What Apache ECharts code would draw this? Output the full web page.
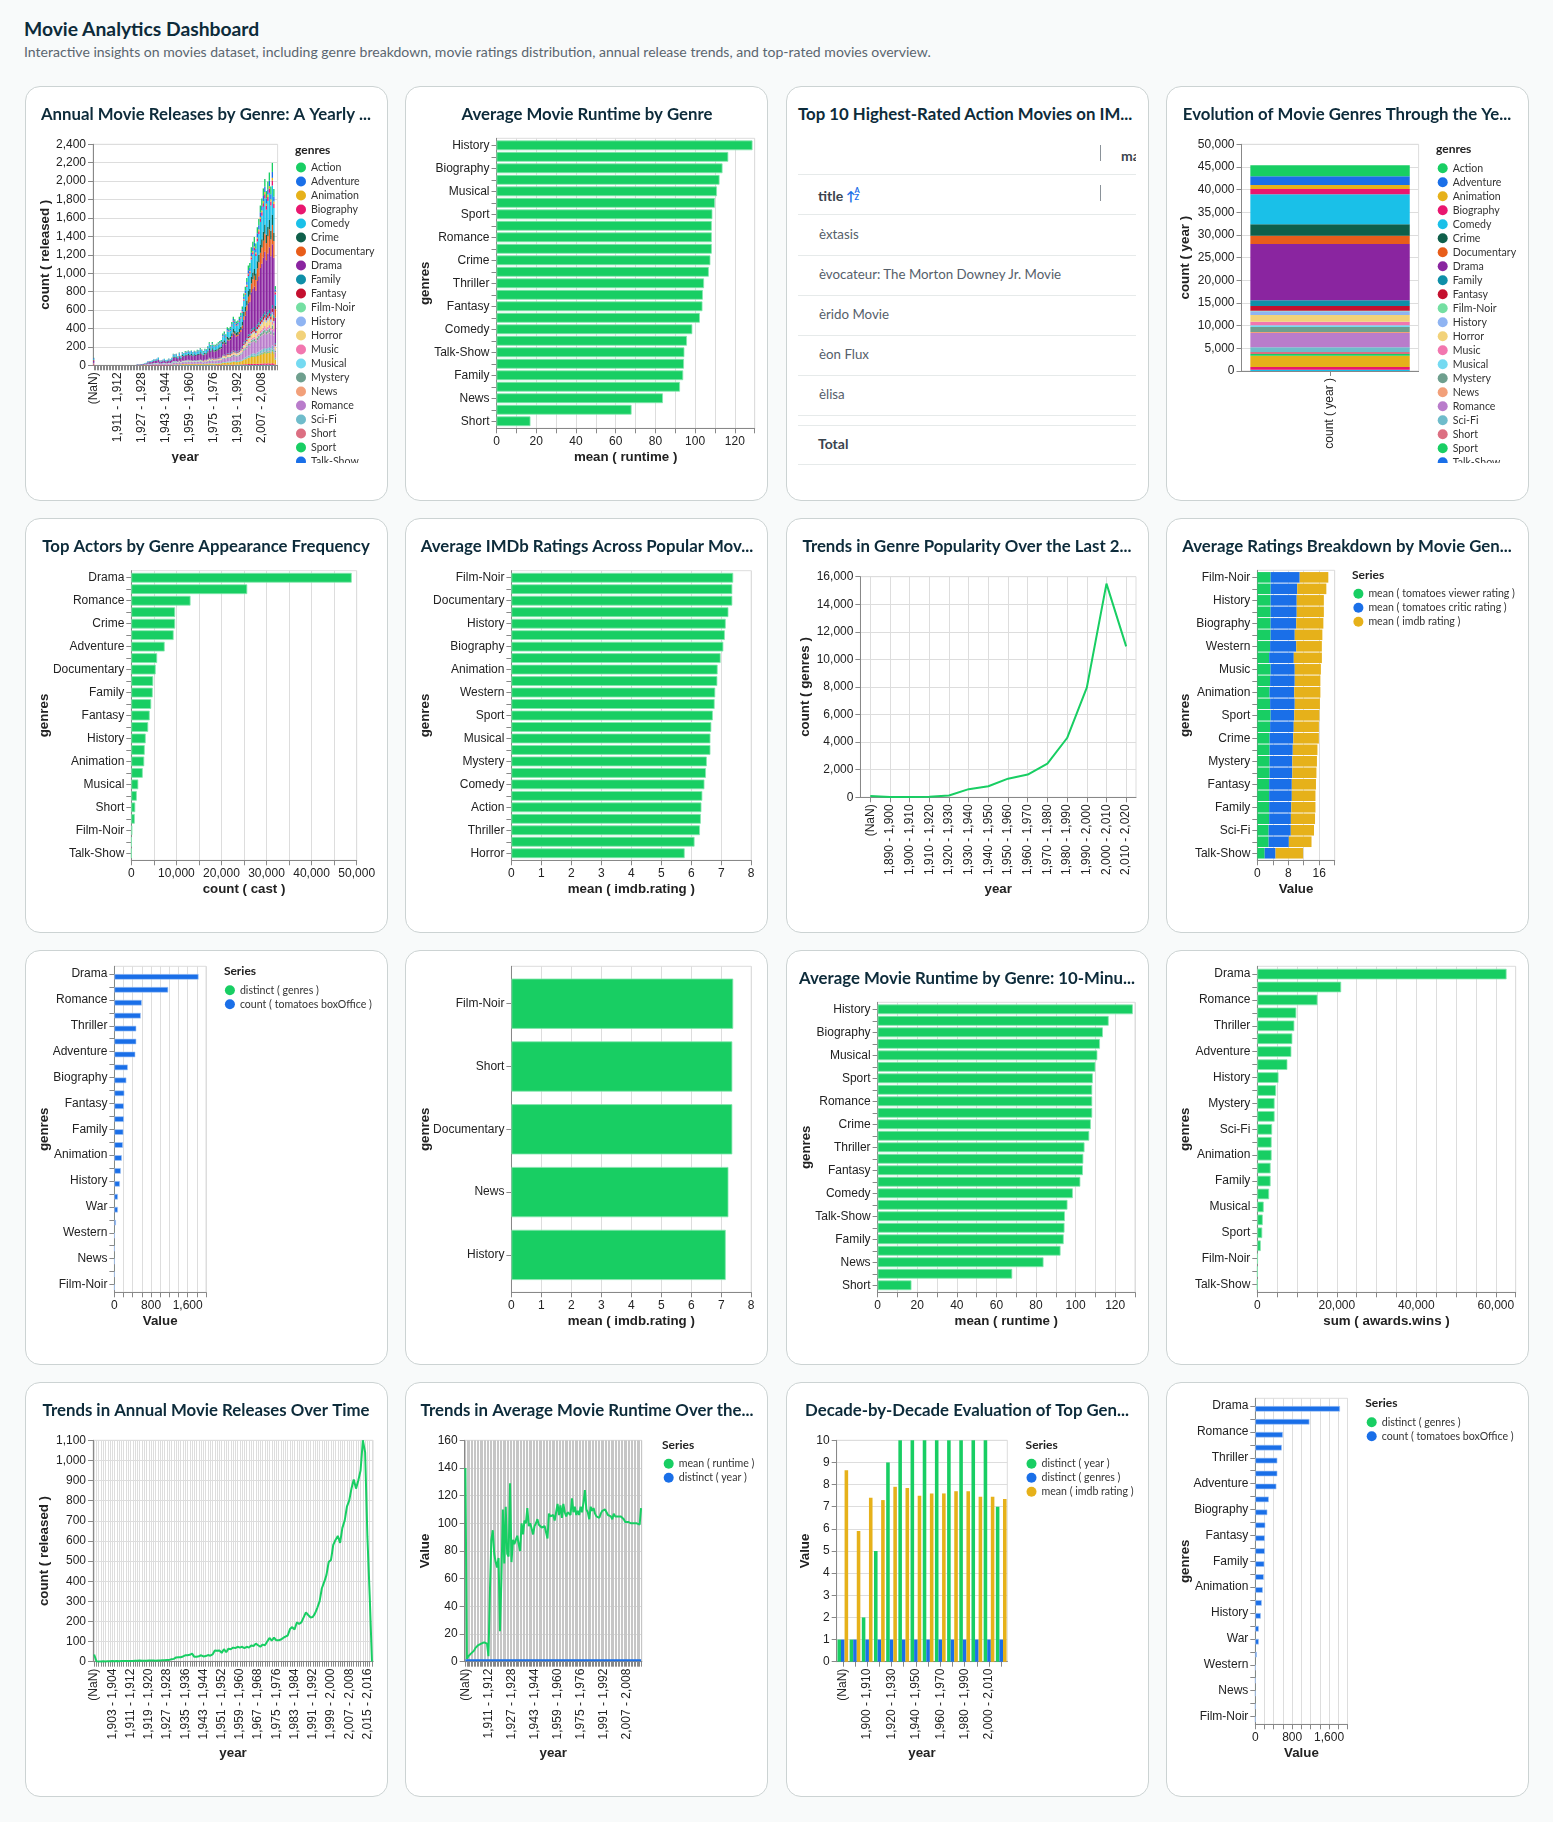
<!DOCTYPE html>
<html><head><meta charset="utf-8"><title>Movie Analytics Dashboard</title>
<script src="https://cdn.jsdelivr.net/npm/echarts@6/dist/echarts.min.js"></script>
<style>
html,body{margin:0;padding:0;background:#f8fafa;width:1553px;height:1822px;overflow:hidden;font-family:Lato,sans-serif}
#h1{position:absolute;left:24px;top:18px;font:700 19.3px Lato;color:#0d2b3a;line-height:22px}
#h2{position:absolute;left:24px;top:43px;font:400 14.05px Lato;color:#5b6670;line-height:17px;white-space:nowrap}
.card{position:absolute;width:363px;height:415px;box-sizing:border-box;background:#fff;border:1px solid #ccd3d3;border-radius:15px}
.chart{position:absolute}
.t{position:absolute;white-space:nowrap;font:400 13.3px Lato;color:#56606a;line-height:18px}
.hl{position:absolute;left:798px;width:338px;height:1px;background:#e6eaea}
.vl{position:absolute;left:1100px;width:1px;background:#8a9299}
</style></head><body>
<div id="h1">Movie Analytics Dashboard</div>
<div id="h2">Interactive insights on movies dataset, including genre breakdown, movie ratings distribution, annual release trends, and top-rated movies overview.</div>
<div id="root"></div>
<script>
// ---------- palette and names ----------
const GREEN='#18ce63',BLUE='#1a6fe8',GOLD='#e6b11a';
const genreNames=['Action','Adventure','Animation','Biography','Comedy','Crime','Documentary','Drama','Family','Fantasy','Film-Noir','History','Horror','Music','Musical','Mystery','News','Romance','Sci-Fi','Short','Sport','Talk-Show','Thriller','War','Western'];
const genreColors=[GREEN,BLUE,GOLD,'#e9176f','#1ac0e8','#0f5f4a','#e85d1a','#8a25a0','#0f8fa8','#c4102f','#74dfa2','#8fb4f2','#f2d27a','#f277af','#75daf1','#6f9f8e','#f2a07a','#b97ccb','#6fbccb','#dc6f82',GREEN,BLUE,GOLD,'#e9176f','#1ac0e8'];

// ---------- tick labels ----------
const yearCats=['(NaN)'];
for(let y=1896;y<=2017;y++){yearCats.push(y.toLocaleString('en-US')+' - '+(y+1).toLocaleString('en-US'));}
const decadeCats=['(NaN)','1,890 - 1,900','1,900 - 1,910','1,910 - 1,920','1,920 - 1,930','1,930 - 1,940','1,940 - 1,950','1,950 - 1,960','1,960 - 1,970','1,970 - 1,980','1,980 - 1,990','1,990 - 2,000','2,000 - 2,010','2,010 - 2,020'];

// ---------- yearly counts per genre (right aligned to the last year, earlier years are empty) ----------
const yDrama=[5,5,6,6,7,9,10,15,16,16, 18,22,22,24,28,17,18,19,22,18, 20,23,21,26,40,38,40,31,44,33, 46,43,50,48,53,50,53,48,53,50, 57,55,64,58,52,60,58,70,84,76, 86,76,76,80,85,90,94,118,125,116, 142,138,144,162,184,172,164,166,180,180, 200,245,270,300,340,350,405,425,440,415, 470,500,550,575,610,650,590,640,680,625, 660,625,280,1];
const yComedy=[2,2,3,2,3,4,4,7,7,7, 8,11,10,11,13,8,8,9,11,8, 9,11,10,12,19,18,18,15,21,15, 21,20,23,22,24,22,24,22,25,23, 26,25,29,27,25,28,27,33,39,35, 40,35,35,37,39,41,43,54,57,53, 64,62,65,72,80,76,72,73,80,88, 100,122,132,145,165,168,190,198,205,192, 215,225,245,255,272,285,270,282,295,275, 320,268,120,0];
const yRomance=[2,2,2,2,2,3,4,6,6,6, 7,9,9,10,12,7,8,8,9,8, 8,9,9,11,16,15,16,13,17,13, 17,16,18,18,19,18,19,17,18,17, 18,17,20,18,16,18,17,20,24,22, 25,22,22,23,24,26,27,33,35,33, 40,39,41,46,51,49,46,47,51,57, 64,78,85,92,106,108,122,125,128,120, 133,138,148,151,158,160,150,155,160,148, 172,140,60,0];
const yThriller=[0,0,1,1,1,1,1,2,2,2, 2,3,3,3,4,2,2,3,3,3, 3,3,3,4,6,5,6,5,6,5, 7,7,8,7,8,8,8,7,8,8, 9,9,10,9,8,10,9,12,14,12, 14,12,12,13,14,15,15,20,21,19, 24,23,24,27,30,29,27,28,30,34, 38,48,52,57,65,66,76,78,80,76, 85,90,98,102,108,114,108,113,118,112, 130,108,48,0];
const yCrime=[1,1,1,1,1,1,2,3,3,3, 4,5,5,5,6,4,4,4,5,4, 4,5,5,6,9,9,9,7,10,8, 11,10,11,11,12,11,12,11,12,11, 12,12,14,12,11,13,12,15,17,15, 17,15,15,16,17,18,18,23,24,22, 27,26,27,30,33,31,30,30,32,36, 40,47,50,55,62,63,71,74,75,71, 79,83,90,92,96,100,94,98,102,95, 108,90,38,0];
const yAction=[0,0,0,1,1,1,1,1,1,1, 2,2,2,2,3,2,2,2,2,2, 2,2,2,3,4,4,5,3,5,4, 5,5,6,6,6,6,6,6,6,6, 7,7,8,8,7,8,8,10,12,11, 12,11,11,11,12,13,13,17,18,17, 20,19,20,22,25,23,22,23,25,28, 30,36,40,43,50,51,58,60,62,58, 65,68,74,77,82,86,82,86,90,84, 98,82,36,0];
const yAdventure=[1,0,0,1,0,1,1,1,2,2, 2,2,2,3,3,2,2,2,3,2, 2,3,2,3,5,5,5,4,5,4, 6,5,6,6,6,6,6,6,6,6, 7,6,7,7,6,7,7,8,10,9, 10,8,8,9,9,10,10,13,14,12, 15,14,15,17,19,18,17,17,18,20, 22,26,28,30,35,35,40,41,42,39, 44,46,50,52,55,57,54,56,58,54, 64,54,24,0];
const yDocumentary=[1,0,0,1,0,0,1,0,0,1, 0,1,1,1,1,1,1,1,2,1, 2,1,2,2,2,3,3,4,5,5, 7,8,9,11,14,14,14,15,18,22, 28,38,46,55,70,76,95,105,115,115, 135,150,165,175,185,195,185,190,195,180, 210,180,90,0];
const yAnimation=[1,1, 1,1,1,1,1,1,1,2,2,2, 3,3,3,3,4,4,3,4,4,5, 5,7,8,9,10,10,12,13,14,14, 16,18,20,21,23,24,24,25,26,24, 30,26,12,0];
const yBiography=[1,1,1, 1,1,1,1,1,1,1,1,1,1, 1,1,1,1,2,2,2,1,2,2, 2,2,2,2,2,2,2,2,2,2, 2,2,2,2,2,2,2,3,3,3, 3,3,3,3,3,3,4,4,5,4, 5,5,5,6,7,7,7,7,8,9, 10,12,13,15,17,18,21,22,24,24, 28,30,34,36,40,43,42,44,47,45, 54,46,20,0];
const yFamily=[1,1,1, 1,1,1,1,1,1,1,1,1,1, 1,1,1,1,2,2,2,2,2,2, 2,2,2,2,2,2,2,2,2,2, 3,3,3,3,3,3,3,4,4,4, 5,4,4,5,5,5,5,6,7,6, 8,7,8,9,10,10,9,9,10,11, 12,15,16,18,20,20,23,24,24,23, 26,27,29,30,32,33,31,32,34,31, 36,30,14,0];
const yFantasy=[1,1,1,1,1,0,0,1,1,0, 0,1,1,1,1,1,1,1,1,1, 1,1,1,1,2,1,2,1,2,1, 2,2,3,2,2,3,3,3,4,3, 4,4,4,4,4,5,5,6,6,6, 7,7,7,8,9,8,8,8,9,10, 11,13,14,16,18,18,21,22,23,22, 25,27,29,30,32,34,32,33,35,32, 38,32,14,0];
const yFilmNoir=[1,1,1, 1,2,1,2,3,3,3,2,3,2, 3,2,3,2,2,2,2,1,1,1, 1,1,1,0,0,0,0,0,0,0,0,0,0,0,0,0,0,0,0,0,0,0,0,0,0,0,0,0,0,0,0,0,0,0,0,0,0,0,0,0,0,0,0,0,0,0,0,0,0,0,0,0,0,0];
const yHistory=[1, 1,1,1,1,1,1,1,1,1,1, 0,1,1,1,1,1,1,1,2,1, 2,1,2,2,2,2,2,2,2,2, 2,2,2,2,2,2,2,2,3,2, 3,2,2,2,3,3,3,3,4,3, 4,4,4,5,5,5,5,5,6,6, 7,8,9,10,11,12,14,14,15,15, 17,18,20,21,23,24,23,24,25,24, 28,24,10,0];
const yHorror=[1,1,1,1,1, 1,1,1,1,2,1,1,1,1,1, 1,1,1,1,2,2,2,2,3,2, 3,3,4,4,4,4,4,4,4,4, 5,5,6,6,6,7,7,8,9,8, 9,8,9,9,10,10,11,14,14,13, 16,15,15,16,18,17,16,16,17,19, 21,25,27,30,34,35,40,42,44,42, 48,50,55,58,62,66,63,66,70,66, 76,64,28,0];
const yMusic=[0,1,1,1,1,0,0,1,1,0, 1,1,1,1,1,1,1,1,1,1, 1,1,1,1,1,1,1,1,1,1, 1,1,2,1,1,2,2,2,2,2, 2,2,2,2,2,2,3,3,4,3, 4,4,4,5,5,5,5,5,6,6, 7,9,10,11,12,13,15,16,17,17, 20,22,24,26,28,30,29,30,32,30, 36,30,14,0];
const yMusical=[1,1,1,1,2,2,2,2, 2,2,2,3,3,2,2,2,3,2, 2,3,3,3,4,4,4,3,4,3, 4,4,4,4,4,3,3,3,3,3, 3,3,3,2,2,2,2,2,3,2, 2,2,2,2,2,2,2,3,3,3, 3,3,3,3,3,3,3,3,3,4, 4,5,5,5,6,6,6,7,7,6, 7,7,7,8,8,8,7,8,8,7, 9,7,3,0];
const yMystery=[1,1,1,2,2,2, 2,3,3,3,3,2,2,2,3,2, 2,3,2,3,4,4,4,3,5,3, 5,4,5,5,5,5,5,4,5,4, 5,4,5,5,4,5,5,5,6,5, 6,5,5,5,6,6,6,7,8,7, 8,8,8,9,10,10,9,9,10,11, 13,15,16,18,20,20,23,24,25,24, 27,28,30,31,33,35,33,34,36,33, 38,32,14,0];
const yNews=[1,0,0,1,0,1, 1,1,1,1,2,2,2,3,3,3, 3,3,4,4,4,5,4,5,5,5, 6,5,2,0];
const ySciFi=[1,1,1,1,1,2,1, 2,2,2,2,3,2,2,2,2,2, 2,2,2,2,2,3,3,3,5,4, 5,5,5,5,6,6,6,7,7,7, 8,8,8,9,10,9,9,9,10,11, 12,14,15,17,19,19,22,23,24,23, 26,28,30,32,34,36,35,36,38,36, 42,36,16,0];
const yShort=[1,0,1,1,1,1,1,1,1, 2,2,2,3,3,3,4,4,4,4, 5,5,6,6,7,7,7,7,8,8, 9,8,4,0];
const ySport=[1,0,0,0,1,0, 0,1,0,1,0,1,1,1,1,1, 1,1,1,1,1,1,1,2,2,2, 2,2,2,2,3,3,2,3,3,3, 3,4,4,5,5,5,6,6,7,6, 7,8,8,9,9,10,9,10,10,9, 11,9,4,0];
const yTalkShow=[1,1,0,1,1,1,1,0,0,0,0,0];
const yWar=[1,1,1, 1,1,1,1,2,2,2,2,2,2, 2,2,2,2,3,3,3,3,3,2, 3,3,3,3,3,3,3,3,3,3, 3,3,3,3,2,3,3,3,4,3, 3,3,3,3,3,3,3,4,4,4, 4,4,4,5,5,5,5,5,5,6, 6,8,8,9,10,10,11,12,12,11, 13,13,14,15,15,16,15,16,16,15, 18,15,7,0];
const yWestern=[1,0,1,1,1,1,1,1, 1,1,1,1,1,1,1,1,1,1, 1,1,1,1,2,2,2,1,2,2, 3,3,3,3,3,3,3,3,3,3, 3,3,3,3,2,2,2,2,2,2, 2,2,2,1,1,1,1,2,2,1, 2,2,2,1,1,2,2,2,2,2, 2,3,3,3,3,3,4,4,4,3, 4,4,4,4,5,5,4,5,5,4, 5,4,2,0];
// bar at the (NaN) year, in genreNames order
const nanYearCounts=[5,3,1,2,12,3,6,22,1,1,0,1,2,1,1,1,0,6,1,8,0,0,4,1,1];
const yearlyByGenre=[yAction,yAdventure,yAnimation,yBiography,yComedy,yCrime,yDocumentary,yDrama,yFamily,yFantasy,yFilmNoir,yHistory,yHorror,yMusic,yMusical,yMystery,yNews,yRomance,ySciFi,yShort,ySport,yTalkShow,yThriller,yWar,yWestern];

// ---------- totals of the genre stack ----------
const genreTotals=[2430,1910,880,1180,6620,2500,1850,12400,1260,1040,140,810,1470,810,370,1100,220,3160,1030,440,370,10,2490,580,300];

// ---------- runtime ----------
const runtimeGenres=['History','War','Biography','Drama','Musical','Western','Sport','Music','Romance','Film-Noir','Crime','Mystery','Thriller','Adventure','Fantasy','Action','Comedy','Sci-Fi','Talk-Show','Horror','Family','Documentary','News','Animation','Short'];
const runtimeValues=[128.9,116.7,113.8,112.3,111,110,108.7,108.4,108.4,108.4,107.7,106.9,104.5,103.9,103.7,102.4,98.6,95.9,94.6,94.4,94,92.4,83.8,68,17.1];

// ---------- cast ----------
const castGenres=['Drama','Comedy','Romance','Action','Crime','Thriller','Adventure','Mystery','Documentary','Horror','Family','Biography','Fantasy','Music','History','Sci-Fi','Animation','Sport','Musical','War','Short','Western','Film-Noir','News','Talk-Show'];
const castValues=[48900,25720,13140,9720,9720,9390,7400,5740,5410,4860,4750,4420,4080,3750,3200,2980,2870,2540,1550,1220,880,770,220,60,20];

// ---------- imdb ----------
const imdbGenres=['Film-Noir','Short','Documentary','News','History','War','Biography','Drama','Animation','Crime','Western','Music','Sport','Family','Musical','Romance','Mystery','Adventure','Comedy','Talk-Show','Action','Fantasy','Thriller','Sci-Fi','Horror'];
const imdbValues=[7.4,7.37,7.37,7.24,7.15,7.12,7.07,6.98,6.88,6.87,6.8,6.78,6.72,6.67,6.64,6.64,6.52,6.49,6.44,6.37,6.34,6.32,6.29,6.11,5.78];
const imdbTopGenres=['Film-Noir','Short','Documentary','News','History'];
const imdbTopValues=[7.4,7.37,7.37,7.24,7.15];

// ---------- decades ----------
const decadeReleased=[100,30,30,40,130,590,800,1350,1650,2450,4300,7950,15500,10950];

// ---------- ratings breakdown ----------
const ratingGenres=['Film-Noir','Documentary','History','War','Biography','Drama','Western','Short','Music','Musical','Animation','Romance','Sport','Adventure','Crime','Thriller','Mystery','Comedy','Fantasy','Action','Family','Horror','Sci-Fi','News','Talk-Show'];
const ratingViewer=[3.44,3.44,3.44,3.44,3.44,3.44,3.31,3.06,3.44,3.31,3.18,3.31,3.44,3.31,3.18,3.18,3.18,3.18,3.06,3.06,3.06,3.06,2.93,2.93,1.91];
const ratingCritic=[7.52,6.88,6.75,6.75,6.62,6.24,6.75,6.37,6.24,6.37,6.37,6.37,6.11,6.11,6.11,5.99,5.86,5.86,5.86,5.86,5.73,5.62,5.73,5.22,2.8];
const ratingImdb=[7.39,7.52,7.01,7.01,7.01,7.13,6.62,7.26,6.75,6.62,6.75,6.5,6.5,6.5,6.62,6.37,6.37,6.24,6.24,6.11,6.24,6.24,5.99,5.86,7.13];

// ---------- box office ----------
const boxGenres=['Drama','Comedy','Romance','Action','Thriller','Crime','Adventure','Sci-Fi','Biography','Horror','Fantasy','Mystery','Family','Music','Animation','Sport','History','Musical','War','Documentary','Western','Short','News','Talk-Show','Film-Noir'];
const boxDistinct=[1,1,1,1,1,1,1,1,1,1,1,1,1,1,1,1,1,1,1,1,1,1,1,1,1];
const boxCounts=[1837,1174,598,576,478,478,457,293,261,217,207,207,196,185,163,141,120,76,76,33,5,2,1,1,0];

// ---------- awards ----------
const awardGenres=['Drama','Comedy','Romance','Action','Thriller','Crime','Adventure','Biography','History','Documentary','Mystery','Fantasy','Sci-Fi','Music','Animation','War','Family','Horror','Musical','Western','Sport','Short','Film-Noir','News','Talk-Show'];
const awardValues=[62700,21100,15150,9810,9315,8820,8570,7570,5340,4720,4350,4350,3730,3600,3600,3350,3350,2980,1610,1370,1240,870,120,60,0];

// ---------- released per year ----------
const releasedByYear=[36,2,1,1,2,1,2,2,3,2,3,2,3,3,3,3,4,4,5,5,6,5,5,5,6,6,6,5,6,6,7,7,8,9,12,14,21,22,22,26,32,32,34,40,24,25,27,32,26,28,33,30,36,56,54,56,44,62,47,65,62,70,68,74,70,74,68,74,70,80,78,90,82,74,85,82,100,118,105,120,106,106,110,118,125,130,162,172,160,195,188,195,220,245,232,220,222,240,268,300,365,395,430,495,505,580,605,625,590,665,700,770,800,860,905,860,900,950,1100,1040,620,330,1];

// ---------- runtime per year ----------
const runtimeByYear=[140,2,4,5,6,7,8,10,11,12,12,13,13,14,14,13,4,50,88,95,78,72,68,75,22,60,110,71,112,78,76,129,72,88,85,88,91,85,80,100,92,102,100,111,98,100,96,92,98,100,103,99,98,97,98,98,99,89,107,105,105,106,102,108,114,106,113,104,114,108,105,108,107,106,118,108,112,106,109,106,112,108,115,124,110,108,103,112,109,111,107,105,105,104,107,109,108,110,111,106,105,105,103,107,105,106,105,106,105,105,103,101,102,101,100,100,99,100,101,100,99,99,111];
const distinctYearFlat=[1,1,1,1,1,1,1,1,1,1,1,1,1,1,1,1,1,1,1,1,1,1,1,1,1,1,1,1,1,1,1,1,1,1,1,1,1,1,1,1,1,1,1,1,1,1,1,1,1,1,1,1,1,1,1,1,1,1,1,1,1,1,1,1,1,1,1,1,1,1,1,1,1,1,1,1,1,1,1,1,1,1,1,1,1,1,1,1,1,1,1,1,1,1,1,1,1,1,1,1,1,1,1,1,1,1,1,1,1,1,1,1,1,1,1,1,1,1,1,1,1,1,1];

// ---------- decade evaluation ----------
const decadeDistinctYear=[1,1,2,5,9,10,10,10,10,10,10,10,10,7];
const decadeDistinctGenres=[1,1,1,1,1,1,1,1,1,1,1,1,1,1];
const decadeImdb=[8.65,5.9,7.4,7.3,7.9,7.85,7.5,7.6,7.6,7.7,7.7,7.45,7.45,7.35];

// ---------- table ----------
const tableTitles=['èxtasis','èvocateur: The Morton Downey Jr. Movie','èrido Movie','èon Flux','èlisa'];
const tableLines=[174,214,255,295,335,375,415,425,464];

// ---------- layout ----------
const colX=[24.5,405,785.5,1165.5], rowY=[86.3,518.3,950.3,1382.3];
const TICK='Liberation Sans', UI='Lato';
const root=document.getElementById('root');

function pad(a,first){const out=[first];for(let i=0;i<122-a.length;i++)out.push(0);return out.concat(a);}
const fmt=v=>v.toLocaleString('en-US');

function hBar(data,color,extra){return Object.assign({type:'bar',data,itemStyle:{color:color,borderColor:'#86e6ae',borderWidth:0.8},barCategoryGap:'15%',silent:true},extra||{});}

function makeChart(c){
  const card=document.createElement('div');card.className='card';card.style.left=colX[c.col]+'px';card.style.top=rowY[c.row]+'px';root.appendChild(card);
  const x0=Math.floor(colX[c.col]),y0=Math.floor(rowY[c.row]);
  const d=document.createElement('div');d.className='chart';
  const H=c.clipY?c.clipY-y0:416;
  d.style.cssText='left:'+x0+'px;top:'+y0+'px;width:364px;height:'+H+'px';root.appendChild(d);
  const [L,R,T,B]=c.grid;
  const gridColor=c.catGridColor||'#ddd';
  const catAxis={type:'category',data:c.cats,inverse:!!c.horizontal,boundaryGap:true,
    axisLine:{show:true,onZero:false,lineStyle:{color:'#888'}},
    axisTick:{show:true,alignWithLabel:true,interval:0,length:5,lineStyle:{color:'#888'}},
    axisLabel:{show:true,interval:c.labelEvery-1,margin:7,fontFamily:TICK,fontSize:12,color:'#222',rotate:c.horizontal?0:90,hideOverlap:false},
    splitLine:{show:!!c.catGrid,alignWithLabel:true,interval:0,lineStyle:{color:gridColor,width:1}}};
  const valAxis={type:'value',min:0,max:c.max,interval:c.tick,
    axisLine:{show:true,lineStyle:{color:'#888'}},
    axisTick:{show:true,length:5,lineStyle:{color:'#888'}},
    axisLabel:{margin:7,fontFamily:TICK,fontSize:12,color:'#222',hideOverlap:false,formatter:v=>(v%c.labelStep===0?fmt(v):'')},
    splitLine:{show:true,lineStyle:{color:'#ddd',width:1}}};
  const nameStyle={fontFamily:TICK,fontSize:13.3,fontWeight:'bold',color:'#222',verticalAlign:'middle',align:'center'};
  const nameOf=(cfg,gap)=>({name:cfg[0],nameLocation:'middle',nameGap:gap,nameTextStyle:nameStyle,nameMoveOverlap:false});
  const titles=[];
  if(c.title)titles.push({text:c.title,left:'center',top:19,padding:0,textStyle:{fontFamily:UI,fontWeight:700,fontSize:16.8,color:'#0d2b3a',lineHeight:20}});
  const frame={left:L-x0,top:T-y0,width:R-L,height:B-T,containLabel:false,outerBoundsMode:'none',show:true,borderColor:'#ddd',borderWidth:1,backgroundColor:'transparent'};
  const opt={animation:false,title:titles,tooltip:{show:false}};
  if(c.horizontal){
    // the bands sit slightly inside the frame, so the categories live on an inner grid
    const inset=c.inset===undefined?1.3:c.inset;
    opt.grid=[frame,{left:L-x0,top:T-y0+inset,width:R-L,height:B-T-2*inset,containLabel:false,outerBoundsMode:'none',show:false}];
    opt.xAxis=[Object.assign(valAxis,nameOf(c.xName,c.xName[1]-B),{gridIndex:0}),{type:'value',gridIndex:1,min:0,max:c.max,show:false}];
    opt.yAxis=[Object.assign({type:'category',gridIndex:0,data:[''],inverse:true,axisLine:{show:true,onZero:false,lineStyle:{color:'#888'}},axisTick:{show:false},axisLabel:{show:false},splitLine:{show:false}},nameOf(c.yName,L-c.yName[1])),
      Object.assign(catAxis,{gridIndex:1,axisLine:{show:false}})];
    opt.series=c.series.map(s=>Object.assign({},s,{xAxisIndex:1,yAxisIndex:1}));
  }else{
    opt.grid=frame;
    opt.xAxis=Object.assign(catAxis,nameOf(c.xName,c.xName[1]-B));
    opt.yAxis=Object.assign(valAxis,nameOf(c.yName,L-c.yName[1]));
    opt.series=c.series;
  }
  if(c.legend){const g=c.legend;
    titles.push({text:g.title,left:g.titleX-x0,top:g.titleY-y0-8,padding:0,textStyle:{fontFamily:UI,fontWeight:700,fontSize:12,color:'#222',lineHeight:16}});
    opt.legend={orient:'vertical',type:'plain',left:g.symX-5-x0,top:g.firstY-5-y0,height:900,itemWidth:10,itemHeight:10,itemGap:3,icon:'circle',selectedMode:false,data:g.names,padding:0,itemStyle:{borderWidth:0},textStyle:{fontFamily:UI,fontSize:10.6,lineHeight:10,color:'#333'}};
  }
  const ec=echarts.init(d,null,{renderer:'canvas'});ec.setOption(opt);
}

const genreStack=genreNames.map((n,i)=>({type:'bar',name:n,stack:'g',data:pad(yearlyByGenre[i],nanYearCounts[i]),itemStyle:{color:genreColors[i]},barCategoryGap:'12%',silent:true})).reverse();
const genreTotalStack=genreNames.map((n,i)=>({type:'bar',name:n,stack:'g',data:[genreTotals[i]],itemStyle:{color:genreColors[i]},barCategoryGap:'10%',silent:true})).reverse();
const line=(name,data,color)=>({type:'line',name,data,showSymbol:false,lineStyle:{color,width:2},itemStyle:{color},silent:true});
const boxSeries=[
  {type:'bar',name:'distinct ( genres )',data:boxDistinct,itemStyle:{color:GREEN},barGap:0,barCategoryGap:'14%',silent:true},
  {type:'bar',name:'count ( tomatoes boxOffice )',data:boxCounts,itemStyle:{color:BLUE,borderColor:'#a7c8f5',borderWidth:0.6},silent:true}];
const boxNames=['distinct ( genres )','count ( tomatoes boxOffice )'];

makeChart({col:0,row:0,title:'Annual Movie Releases by Genre: A Yearly ...',clipY:463,grid:[93,277.6,144.3,365.3],cats:yearCats,labelEvery:16,max:2400,tick:200,labelStep:200,series:genreStack,xName:['year',457.3],yName:['count ( released )',45],
  legend:{title:'genres',titleX:295,titleY:149.7,symX:301,firstY:167,names:genreNames}});
makeChart({col:1,row:0,title:'Average Movie Runtime by Genre',horizontal:true,grid:[496.5,754.7,138.3,428.3],cats:runtimeGenres,labelEvery:2,max:130,tick:10,labelStep:20,series:[hBar(runtimeValues,GREEN)],xName:['mean ( runtime )',457.3],yName:['genres',425]});
makeChart({col:3,row:0,title:'Evolution of Movie Genres Through the Ye...',clipY:463,grid:[1241.5,1418.6,144.3,371],cats:['count ( year )'],labelEvery:1,max:50000,tick:5000,labelStep:5000,series:genreTotalStack,xName:['',457],yName:['count ( year )',1185],
  legend:{title:'genres',titleX:1436,titleY:149,symX:1442.7,firstY:167.7,names:genreNames}});
makeChart({col:0,row:1,title:'Top Actors by Genre Appearance Frequency',horizontal:true,grid:[131.3,356.7,570.7,860.3],cats:castGenres,labelEvery:2,max:50000,tick:5000,labelStep:10000,series:[hBar(castValues,GREEN)],xName:['count ( cast )',889.3],yName:['genres',44.8]});
makeChart({col:1,row:1,title:'Average IMDb Ratings Across Popular Mov...',horizontal:true,grid:[511.4,751.2,570.7,860.3],cats:imdbGenres,labelEvery:2,max:8,tick:1,labelStep:1,series:[hBar(imdbValues,GREEN)],xName:['mean ( imdb.rating )',889.3],yName:['genres',425]});
makeChart({col:2,row:1,title:'Trends in Genre Popularity Over the Last 2...',grid:[860.4,1136,576.7,797.3],cats:decadeCats,labelEvery:1,catGrid:true,max:16000,tick:2000,labelStep:2000,series:[line('count ( genres )',decadeReleased,GREEN)],xName:['year',889],yName:['count ( genres )',805.6]});
makeChart({col:3,row:1,title:'Average Ratings Breakdown by Movie Gen...',horizontal:true,grid:[1257.3,1334.7,570.3,860.3],cats:ratingGenres,labelEvery:2,max:20,tick:4,labelStep:8,
  series:[
    {type:'bar',name:'mean ( tomatoes viewer rating )',stack:'r',data:ratingViewer,itemStyle:{color:GREEN},barCategoryGap:'8%',silent:true},
    {type:'bar',name:'mean ( tomatoes critic rating )',stack:'r',data:ratingCritic,itemStyle:{color:BLUE},silent:true},
    {type:'bar',name:'mean ( imdb rating )',stack:'r',data:ratingImdb,itemStyle:{color:GOLD},silent:true}],
  xName:['Value',889.3],yName:['genres',1185.8],
  legend:{title:'Series',titleX:1352,titleY:575,symX:1358.4,firstY:593.3,names:['mean ( tomatoes viewer rating )','mean ( tomatoes critic rating )','mean ( imdb rating )']}});
makeChart({col:0,row:2,horizontal:true,grid:[114.4,206,966.3,1292.3],cats:boxGenres,labelEvery:2,max:2000,tick:200,labelStep:800,series:boxSeries,xName:['Value',1321.3],yName:['genres',44.8],
  legend:{title:'Series',titleX:223.9,titleY:971.3,symX:229.9,firstY:989.7,names:boxNames}});
makeChart({col:1,row:2,horizontal:true,inset:6,grid:[511.4,751.2,966.3,1292.3],cats:imdbTopGenres,labelEvery:1,max:8,tick:1,labelStep:1,series:[hBar(imdbTopValues,GREEN,{barCategoryGap:'20%'})],xName:['mean ( imdb.rating )',1321.3],yName:['genres',425]});
makeChart({col:2,row:2,title:'Average Movie Runtime by Genre: 10-Minu...',horizontal:true,grid:[877.6,1135,1002.3,1292.3],cats:runtimeGenres,labelEvery:2,max:130,tick:10,labelStep:20,series:[hBar(runtimeValues,GREEN)],xName:['mean ( runtime )',1321.3],yName:['genres',806]});
makeChart({col:3,row:2,horizontal:true,grid:[1257.3,1515.7,966.3,1292.3],cats:awardGenres,labelEvery:2,max:65000,tick:5000,labelStep:20000,series:[hBar(awardValues,GREEN,{barCategoryGap:'18%'})],xName:['sum ( awards.wins )',1321.3],yName:['genres',1185.8]});
makeChart({col:0,row:3,title:'Trends in Annual Movie Releases Over Time',grid:[93,373.1,1440.3,1661.7],cats:yearCats,labelEvery:8,catGrid:true,max:1100,tick:100,labelStep:100,series:[line('count ( released )',releasedByYear,GREEN)],xName:['year',1753],yName:['count ( released )',44.8]});
makeChart({col:1,row:3,title:'Trends in Average Movie Runtime Over the...',grid:[464.7,641.8,1440.3,1661.7],cats:yearCats,labelEvery:16,catGrid:true,catGridColor:'#c6c6c6',max:160,tick:20,labelStep:20,series:[line('mean ( runtime )',runtimeByYear,GREEN),line('distinct ( year )',distinctYearFlat,BLUE)],xName:['year',1753],yName:['Value',425.4],
  legend:{title:'Series',titleX:662,titleY:1445,symX:668.7,firstY:1463.3,names:['mean ( runtime )','distinct ( year )']}});
makeChart({col:2,row:3,title:'Decade-by-Decade Evaluation of Top Gen...',grid:[836.7,1007.3,1440.3,1661.7],cats:decadeCats,labelEvery:2,max:10,tick:1,labelStep:1,
  series:[
    {type:'bar',name:'distinct ( year )',data:decadeDistinctYear,itemStyle:{color:GREEN},barGap:0,barCategoryGap:'12%',silent:true},
    {type:'bar',name:'distinct ( genres )',data:decadeDistinctGenres,itemStyle:{color:BLUE},silent:true},
    {type:'bar',name:'mean ( imdb rating )',data:decadeImdb,itemStyle:{color:GOLD},silent:true}],
  xName:['year',1753],yName:['Value',805.6],
  legend:{title:'Series',titleX:1025.6,titleY:1445,symX:1031.5,firstY:1463.3,names:['distinct ( year )','distinct ( genres )','mean ( imdb rating )']}});
makeChart({col:3,row:3,horizontal:true,grid:[1255.3,1347.5,1398.3,1724.3],cats:boxGenres,labelEvery:2,max:2000,tick:200,labelStep:800,series:boxSeries.map(s=>Object.assign({},s)),xName:['Value',1753.3],yName:['genres',1185.8],
  legend:{title:'Series',titleX:1365.3,titleY:1403,symX:1371.7,firstY:1421.7,names:boxNames}});

// ---------- table card ----------
(function(){
  const x0=colX[2],y0=rowY[0];
  const card=document.createElement('div');card.className='card';card.style.left=x0+'px';card.style.top=y0+'px';root.appendChild(card);
  const add=(cls,css,txt)=>{const e=document.createElement('div');e.className=cls;e.style.cssText=css;if(txt)e.textContent=txt;root.appendChild(e);return e;};
  add('t','left:798px;top:104px;font:700 16.8px Lato;line-height:20px;color:#0d2b3a','Top 10 Highest-Rated Action Movies on IM...');
  tableLines.forEach(y=>add('hl','top:'+y+'px'));
  add('vl','top:145px;height:16px');add('vl','top:185px;height:16px');
  add('t','left:1121px;top:147px;width:15px;overflow:hidden;font-weight:700;font-size:14px;color:#3a444e','max ( imdb.rating )');
  add('t','left:818px;top:186.5px;font-weight:700;font-size:14px;color:#3a444e','title');
  add('t','left:846px;top:187px;font:700 13px Lato;line-height:18px;color:#1a6fe8','↑');
  add('t','left:854.5px;top:187px;font:700 7.5px Lato;line-height:8px;color:#1a6fe8','A');
  add('t','left:854.5px;top:194px;font:700 7.5px Lato;line-height:8px;color:#1a6fe8','Z');
  tableTitles.forEach((s,i)=>add('t','left:819px;top:'+(225+40*i)+'px',s));
  add('t','left:818px;top:435px;font-weight:700;font-size:14px;color:#3a444e','Total');
})();
</script>
</body></html>
